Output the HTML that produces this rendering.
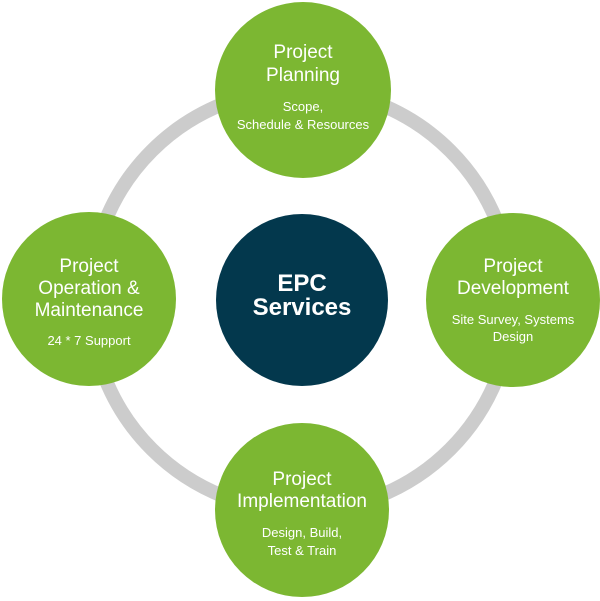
<!DOCTYPE html>
<html><head><style>
html,body{margin:0;padding:0;background:#fff;width:600px;height:601px;overflow:hidden}
svg{display:block}
text{font-family:"Liberation Sans",sans-serif;fill:#fff;text-anchor:middle}
.t{font-size:19px}
.s{font-size:13px}
.c{font-size:24px;font-weight:bold}
</style></head><body>
<svg width="600" height="601" viewBox="0 0 600 601">
<circle cx="301" cy="300" r="211" fill="none" stroke="#cccccc" stroke-width="14"/>
<circle cx="302" cy="300" r="86" fill="#03384d"/>
<circle cx="303" cy="90" r="88" fill="#7cb732"/>
<circle cx="513" cy="300" r="87" fill="#7cb732"/>
<circle cx="89" cy="299" r="87" fill="#7cb732"/>
<circle cx="302" cy="510" r="87" fill="#7cb732"/>
<text class="c" x="302" y="291">EPC</text>
<text class="c" x="302" y="315">Services</text>
<text class="t" x="303" y="58">Project</text>
<text class="t" x="303" y="81">Planning</text>
<text class="s" x="303" y="111">Scope,</text>
<text class="s" x="303" y="129">Schedule &amp; Resources</text>
<text class="t" x="513" y="272">Project</text>
<text class="t" x="513" y="294">Development</text>
<text class="s" x="513" y="324">Site Survey, Systems</text>
<text class="s" x="513" y="341">Design</text>
<text class="t" x="89" y="272">Project</text>
<text class="t" x="89" y="294">Operation &amp;</text>
<text class="t" x="89" y="316">Maintenance</text>
<text class="s" x="89" y="345">24 * 7 Support</text>
<text class="t" x="302" y="485">Project</text>
<text class="t" x="302" y="507">Implementation</text>
<text class="s" x="302" y="537">Design, Build,</text>
<text class="s" x="302" y="555">Test &amp; Train</text>
</svg>
</body></html>
